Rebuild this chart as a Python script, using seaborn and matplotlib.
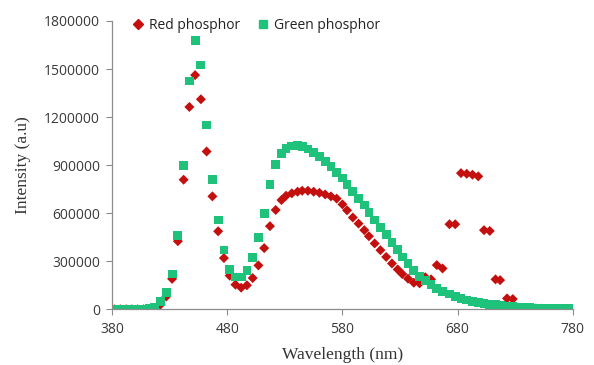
"""
Emission spectra of red and green phosphor, redrawn with seaborn.
Run: python plot.py
"""
import matplotlib
matplotlib.use('Agg')
import matplotlib.pyplot as plt
import matplotlib.ticker as mticker
from matplotlib.lines import Line2D
import pandas as pd
import seaborn as sns

# wavelength grid (nm)
wavelength = [382, 387, 392, 397, 402, 407, 412, 417, 422, 427,
              432, 437, 442, 447, 452, 457, 462, 467, 472, 477,
              482, 487, 492, 497, 502, 507, 512, 517, 522, 527,
              531, 536, 541, 545, 550, 555, 560, 565, 570, 575,
              580, 584, 589, 594, 599, 603, 608, 613, 618, 623,
              628, 632, 637, 642, 647, 652, 657, 662, 667, 673,
              678, 683, 688, 693, 698, 703, 708, 713, 717, 723,
              728, 733, 738, 743, 748, 753, 757, 762, 767, 772,
              777]

green = [0, 0, 0, 0, 0, 0, 3000, 15000, 50000, 105000,
         220000, 460000, 900000, 1425000, 1680000, 1525000, 1150000, 812000, 558000, 370000,
         250000, 201000, 201000, 243000, 325000, 446000, 596000, 778000, 903000, 973000,
         1006000, 1020000, 1022000, 1014000, 1000000, 979000, 952000, 923000, 890000, 855000,
         820000, 778000, 736000, 693000, 651000, 606000, 558000, 512000, 467000, 419000,
         372000, 327000, 284000, 243000, 205000, 178000, 155000, 132000, 113000, 95000,
         80000, 68000, 58000, 50000, 43000, 37000, 32000, 28000, 24000, 20000,
         17000, 14000, 12000, 10000, 8500, 7000, 6000, 5000, 4500, 4000,
         3500]

red = [0, 0, 0, 0, 0, 0, 0, 5000, 30000, 80000,
       190000, 425000, 809000, 1263000, 1462000, 1311000, 985000, 705000, 487000, 320000,
       210000, 154000, 135000, 150000, 195000, 274000, 382000, 519000, 620000, 682000,
       709000, 724000, 734000, 740000, 740000, 734000, 727000, 717000, 705000, 691000,
       655000, 618000, 573000, 535000, 494000, 456000, 411000, 369000, 327000, 286000,
       249000, 220000, 191000, 166000, 162000, 200000, 187000, 276000, 255000, 531000,
       531000, 850000, 846000, 840000, 830000, 494000, 489000, 187000, 182000, 68000,
       64000, 10000, 8000, 6000, 5000, 4000, 3000, 2000, 1500, 1000,
       500]

x_ticks = [380, 480, 580, 680, 780]
y_ticks = [0, 300000, 600000, 900000, 1200000, 1500000, 1800000]

RED = '#C3100E'
GREEN = '#1FC27B'

df = pd.DataFrame({'wavelength': wavelength, 'red': red, 'green': green})

sns.set_style('white')
plt.rcParams['font.family'] = ['Open Sans', 'DejaVu Sans']

fig = plt.figure(figsize=(5.94, 3.65), dpi=100)
ax = fig.add_axes([0.189, 0.1526, 0.775, 0.79])

# red first so green squares sit on top, like the original
sns.scatterplot(data=df, x='wavelength', y='red', marker='D', s=26,
                color=RED, edgecolor='none', ax=ax)
sns.scatterplot(data=df, x='wavelength', y='green', marker='s', s=40,
                color=GREEN, edgecolor='none', ax=ax)

ax.set_xlim(380, 780)
ax.set_ylim(0, 1800000)
ax.set_xticks(x_ticks)
ax.set_yticks(y_ticks)
ax.yaxis.set_major_formatter(mticker.FuncFormatter(lambda v, p: f'{int(v)}'))
ax.tick_params(axis='both', labelsize=10, length=4, width=0.8, pad=5,
               direction='out', left=True, bottom=True,
               colors='#8C8C8C', labelcolor='#3A3A3A')

for side in ['top', 'right']:
    ax.spines[side].set_visible(False)
for side in ['left', 'bottom']:
    ax.spines[side].set_color('#8C8C8C')
    ax.spines[side].set_linewidth(0.9)

ax.set_xlabel('Wavelength (nm)', family='Liberation Serif', fontsize=12.5,
              color='#333333', labelpad=7)
ax.set_ylabel('Intensity (a.u)', family='Liberation Serif', fontsize=12.5,
              color='#333333', labelpad=9)

handles = [Line2D([], [], marker='D', linestyle='none', color=RED, markersize=5),
           Line2D([], [], marker='s', linestyle='none', color=GREEN, markersize=6)]
ax.legend(handles, ['Red phosphor', 'Green phosphor'], ncol=2, frameon=False,
          loc='upper left', bbox_to_anchor=(0.017, 1.055), fontsize=10,
          handlelength=0.8, handletextpad=0.4, columnspacing=1.2,
          labelcolor='#222222')

fig.savefig('out.png', dpi=100)
